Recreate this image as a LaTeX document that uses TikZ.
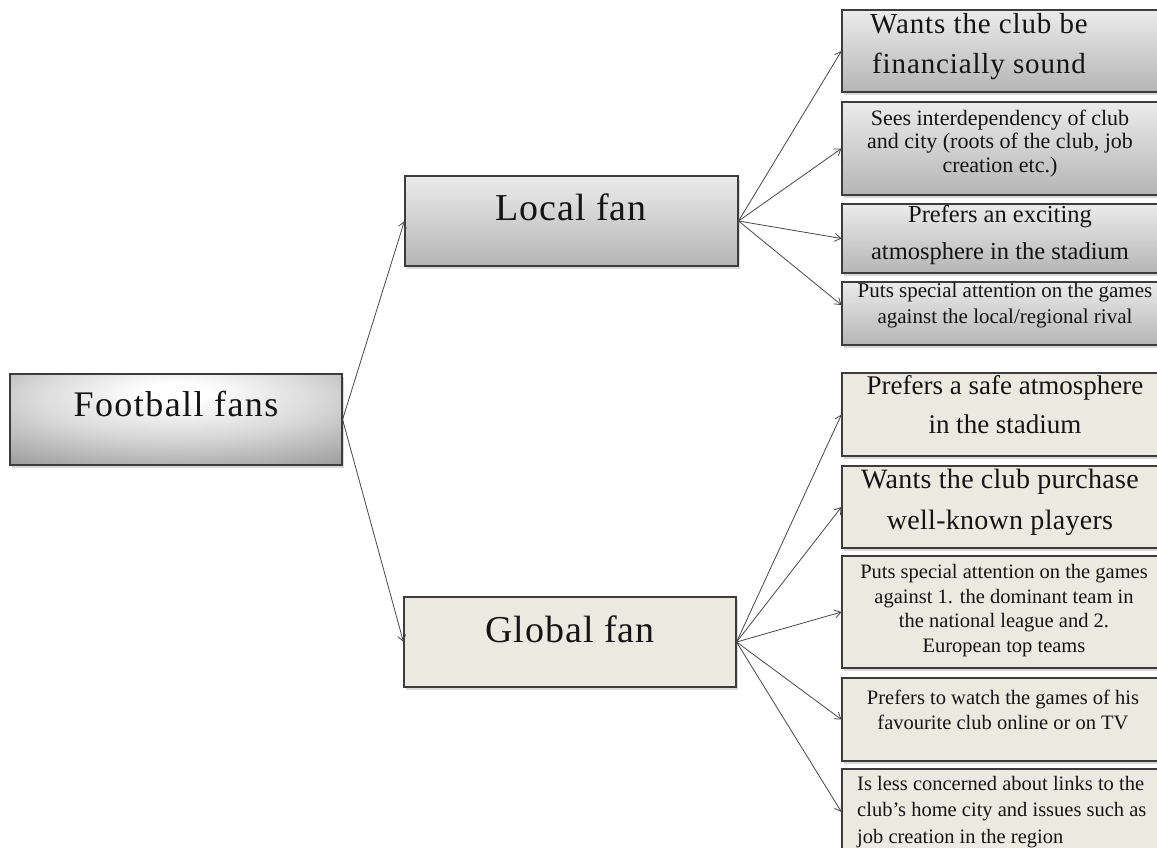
\documentclass[tikz,border=0pt]{standalone}
\usepackage{fontspec}
\setmainfont{Liberation Serif}
\usetikzlibrary{arrows.meta,shadows}
\definecolor{beige}{HTML}{ECE9E0}
\definecolor{lgtop}{HTML}{EBEBEB}
\definecolor{lgbot}{HTML}{B5B5B5}
\definecolor{ffa}{HTML}{D8D8D8}
\definecolor{ffb}{HTML}{A0A0A0}
\definecolor{ffc}{HTML}{858585}
\definecolor{ffd}{HTML}{6E6E6E}
\definecolor{edge}{HTML}{3C3C3C}
\pgfdeclareradialshading{ffrad}{\pgfpoint{0bp}{16bp}}{color(0bp)=(white); color(5bp)=(white); color(22bp)=(ffa); color(40bp)=(ffb); color(56bp)=(ffc); color(85bp)=(ffd)}
\newcommand{\fs}[3]{\fontsize{#1}{#2}\selectfont\addfontfeatures{LetterSpace=#3}}
\tikzset{
  box/.style={draw=edge, line width=1.1pt, inner sep=0pt,
    drop shadow={shadow xshift=1.5pt, shadow yshift=-2.5pt, opacity=0.3}},
  rootbox/.style={box, shading=ffrad},
  localbox/.style={box, top color=lgtop, bottom color=lgbot},
  globalbox/.style={box, fill=beige},
  txt/.style={align=center, inner sep=0pt, anchor=base, text=black!92},
  arr/.style={draw=black!72, line width=0.8pt, -{Straight Barb[length=6pt,width=8pt]}},
}
\begin{document}
\begin{tikzpicture}[x=1pt,y=-1pt]
\useasboundingbox (0,0) rectangle (1157,847);
\clip (0,0) rectangle (1157,847);
% main boxes
\node[rootbox, minimum width=332pt, minimum height=91pt] (ff) at (176,419.5) {};
\node[localbox, minimum width=333pt, minimum height=90pt] (lf) at (571.5,221) {};
\node[globalbox, minimum width=332pt, minimum height=90pt] (gf) at (570,642) {};
% local boxes
\node[localbox, minimum width=323pt, minimum height=82pt] (l1) at (1003.5,51) {};
\node[localbox, minimum width=323pt, minimum height=93pt] (l2) at (1003.5,148.5) {};
\node[localbox, minimum width=323pt, minimum height=69pt] (l3) at (1003.5,238.5) {};
\node[localbox, minimum width=323pt, minimum height=63pt] (l4) at (1003.5,313.5) {};
% global boxes
\node[globalbox, minimum width=323pt, minimum height=83pt] (g1) at (1003.5,414.5) {};
\node[globalbox, minimum width=323pt, minimum height=82pt] (g2) at (1003.5,507) {};
\node[globalbox, minimum width=323pt, minimum height=112pt] (g3) at (1003.5,612) {};
\node[globalbox, minimum width=323pt, minimum height=83pt] (g4) at (1003.5,719.5) {};
\node[globalbox, minimum width=323pt, minimum height=86pt] (g5) at (1003.5,812) {};
% texts (anchor = baseline of the last line)
\node[txt, font=\fs{36}{42}{4}] (tff) at (176,416) {Football fans};
\node[txt, font=\fs{38}{44}{2.5}] (tlf) at (571,220) {Local fan};
\node[txt, font=\fs{38}{44}{2.5}] (tgf) at (570,642) {Global fan};
\node[txt, font=\fs{29}{40}{3}] (tl1) at (979,73) {Wants the club be\\financially sound};
\node[txt, font=\fs{22}{23.3}{0}] (tl2) at (1000,172) {Sees interdependency of club\\and city (roots of the club, job\\creation etc.)};
\node[txt, font=\fs{24.5}{37}{0}] (tl3) at (1000,259) {Prefers an exciting\\atmosphere in the stadium};
\node[txt, font=\fs{21}{26}{0}] (tl4) at (1005,323) {Puts special attention on the games\\against the local/regional rival};
\node[txt, font=\fs{27}{39}{0}] (tg1) at (1005,433) {Prefers a safe atmosphere\\in the stadium};
\node[txt, font=\fs{28}{41}{1}] (tg2) at (1000,529) {Wants the club purchase\\well-known players};
\node[txt, font=\fs{20.5}{24.5}{0}] (tg3) at (1004,652) {Puts special attention on the games\\against 1. the dominant team in\\the national league and 2.\\European top teams};
\node[txt, font=\fs{20.5}{25}{0}] (tg4) at (1003,729) {Prefers to watch the games of his\\favourite club online or on TV};
\node[txt, align=left, anchor=base west, font=\fs{20.5}{26.5}{0}] (tg5) at (857,843) {Is less concerned about links to the\\club’s home city and issues such as\\job creation in the region};
% connectors
\draw[arr] (ff.east) -- (lf.west);
\draw[arr] (ff.east) -- (gf.west);
\draw[arr] (lf.east) -- (l1.west);
\draw[arr] (lf.east) -- (l2.west);
\draw[arr] (lf.east) -- (l3.west);
\draw[arr] (lf.east) -- ([yshift=8.5pt]l4.west);
\draw[arr] (gf.east) -- (g1.west);
\draw[arr] (gf.east) -- (g2.west);
\draw[arr] (gf.east) -- (g3.west);
\draw[arr] (gf.east) -- (g4.west);
\draw[arr] (gf.east) -- (g5.west);
\end{tikzpicture}
\end{document}
